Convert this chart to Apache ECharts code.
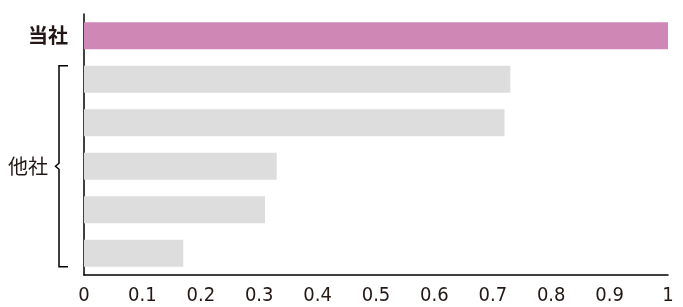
<!DOCTYPE html>
<html>
<head>
<meta charset="utf-8">
<script src="https://cdn.jsdelivr.net/npm/echarts@6/dist/echarts.min.js"></script>
<style>html,body{margin:0;padding:0;background:#fff;}#c{width:683px;height:307px;}</style>
</head>
<body>
<div id="c"></div>
<script>
const categories = ['当社', '他社1', '他社2', '他社3', '他社4', '他社5'];
const values = [1.0, 0.73, 0.72, 0.33, 0.31, 0.17];
const xTickLabels = ['0', '0.1', '0.2', '0.3', '0.4', '0.5', '0.6', '0.7', '0.8', '0.9', '1'];
const groupLabel = '他社';

const ownColor = '#CF87B6';
const otherColor = '#DCDDDC';
const textColor = '#231815';
const cjk = '"Noto Sans CJK JP", "Noto Sans", sans-serif';
const numFont = '"Liberation Sans Narrow", "DejaVu Sans Condensed", sans-serif';

const chart = echarts.init(document.getElementById('c'), null, {renderer: 'canvas'});
chart.setOption({
  animation: false,
  grid: {left: 84, right: 15, top: 14, bottom: 32, containLabel: false},
  xAxis: {
    type: 'value', min: 0, max: 1, interval: 0.1,
    axisLine: {show: true, lineStyle: {color: '#000', width: 1.5}},
    axisTick: {show: false},
    splitLine: {show: false},
    axisLabel: {
      color: textColor, fontFamily: numFont, fontSize: 20, margin: 11,
      formatter: function (v) { return xTickLabels[Math.round(v * 10)]; }
    }
  },
  yAxis: {
    type: 'category', inverse: true, data: categories,
    axisLine: {show: true, lineStyle: {color: '#000', width: 1.5}},
    axisTick: {show: false},
    axisLabel: {
      margin: 16, color: textColor, fontFamily: cjk, fontSize: 20, fontWeight: 'bold',
      formatter: function (v, i) { return i === 0 ? v : ''; }
    }
  },
  series: [{
    type: 'bar', data: values, barWidth: '62%',
    itemStyle: {color: function (p) { return p.dataIndex === 0 ? ownColor : otherColor; }}
  }]
});

// bracket + group label computed from the axes
const bw = chart.getModel().getComponent('yAxis', 0).axis.getBandWidth() * 0.62;
const yTop = chart.convertToPixel({yAxisIndex: 0}, categories[1]) - bw / 2;
const yBot = chart.convertToPixel({yAxisIndex: 0}, categories[categories.length - 1]) + bw / 2;
const yMid = (yTop + yBot) / 2;
const xAxis0 = chart.convertToPixel({xAxisIndex: 0}, 0);
const bx = xAxis0 - 25, hx = xAxis0 - 16, px = xAxis0 - 28.5;
chart.setOption({
  graphic: [
    {type: 'polyline', shape: {points: [[hx, yTop], [bx, yTop], [bx, yMid - 3], [px, yMid], [bx, yMid + 3], [bx, yBot], [hx, yBot]]},
     style: {stroke: '#000', lineWidth: 1.5, fill: null}},
    {type: 'text', x: bx - 11, y: yMid, style: {text: groupLabel, fill: textColor, font: '20px ' + cjk, align: 'right', verticalAlign: 'middle'}}
  ]
});
</script>
</body>
</html>
